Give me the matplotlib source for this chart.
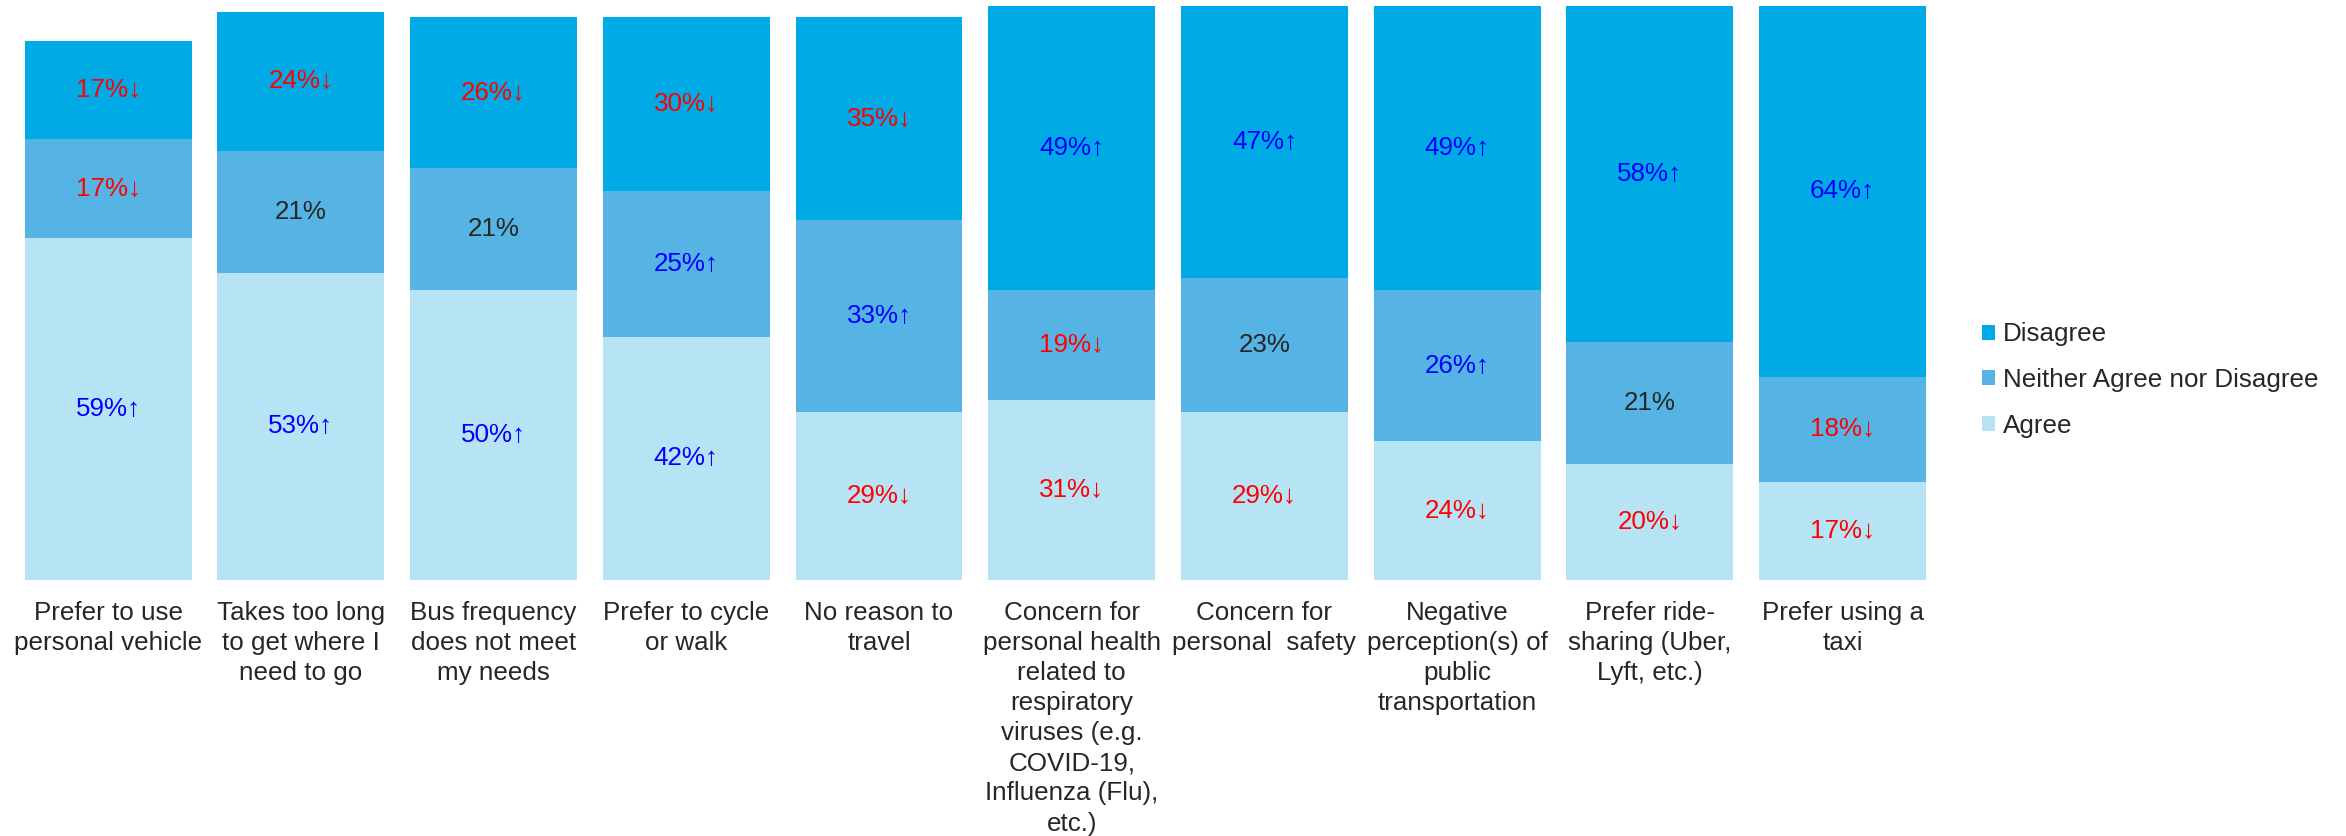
import numpy as np
import matplotlib.pyplot as plt

plt.rcParams['font.family'] = ['Liberation Sans', 'DejaVu Sans']

# Survey data (percent of respondents)
categories = [
    'Prefer to use\npersonal vehicle',
    'Takes too long\nto get where I\nneed to go',
    'Bus frequency\ndoes not meet\nmy needs',
    'Prefer to cycle\nor walk',
    'No reason to\ntravel',
    'Concern for\npersonal health\nrelated to\nrespiratory\nviruses (e.g.\nCOVID-19,\nInfluenza (Flu),\netc.)',
    'Concern for\npersonal  safety',
    'Negative\nperception(s) of\npublic\ntransportation',
    'Prefer ride-\nsharing (Uber,\nLyft, etc.)',
    'Prefer using a\ntaxi',
]
agree = [59, 53, 50, 42, 29, 31, 29, 24, 20, 17]
neither = [17, 21, 21, 25, 33, 19, 23, 26, 21, 18]
disagree = [17, 24, 26, 30, 35, 49, 47, 49, 58, 64]

# significance markers: 'u' up, 'd' down, '' none
agree_sig = ['u', 'u', 'u', 'u', 'd', 'd', 'd', 'd', 'd', 'd']
neither_sig = ['d', '', '', 'u', 'u', 'd', '', 'u', '', 'd']
disagree_sig = ['d', 'd', 'd', 'd', 'd', 'u', 'u', 'u', 'u', 'u']

col_agree = '#B7E4F5'
col_neither = '#55B4E4'
col_disagree = '#00AAE4'
fs = 18.7

fig = plt.figure(figsize=(23.46, 8.36), dpi=100)
ax = fig.add_axes([0.005, 0.306, 0.8215, 0.694])

x = np.arange(len(categories))
w = 0.866
agree = np.array(agree)
neither = np.array(neither)
disagree = np.array(disagree)

ax.bar(x, agree, w, color=col_agree, label='Agree')
ax.bar(x, neither, w, bottom=agree, color=col_neither, label='Neither Agree nor Disagree')
ax.bar(x, disagree, w, bottom=agree + neither, color=col_disagree, label='Disagree')


def put_labels(vals, bottoms, sigs):
    for xi, v, b, s in zip(x, vals, bottoms, sigs):
        if s == 'u':
            txt, c = f'{v}%\u2191', '#0000FF'
        elif s == 'd':
            txt, c = f'{v}%\u2193', '#FF0000'
        else:
            txt, c = f'{v}%', '#262626'
        ax.text(xi, b + v / 2, txt, ha='center', va='center', color=c, fontsize=fs)


put_labels(agree, np.zeros_like(agree), agree_sig)
put_labels(neither, agree, neither_sig)
put_labels(disagree, agree + neither, disagree_sig)

ax.set_xlim(-0.5, len(categories) - 0.5)
ax.set_ylim(0, 100)
ax.set_xticks(x)
ax.set_xticklabels(categories, fontsize=fs, color='#262626', linespacing=1.32)
ax.tick_params(axis='x', length=0, pad=15)
ax.set_yticks([])
for s in ax.spines.values():
    s.set_visible(False)

h, l = ax.get_legend_handles_labels()
fig.legend(h[::-1], l[::-1], loc='center left', bbox_to_anchor=(1982 / 2346, 0.5455),
           frameon=False, fontsize=fs, handlelength=0.5, handleheight=0.5,
           handletextpad=0.3, labelspacing=0.83, borderpad=0, borderaxespad=0,
           labelcolor='#262626')

plt.savefig('out.png', dpi=100)
